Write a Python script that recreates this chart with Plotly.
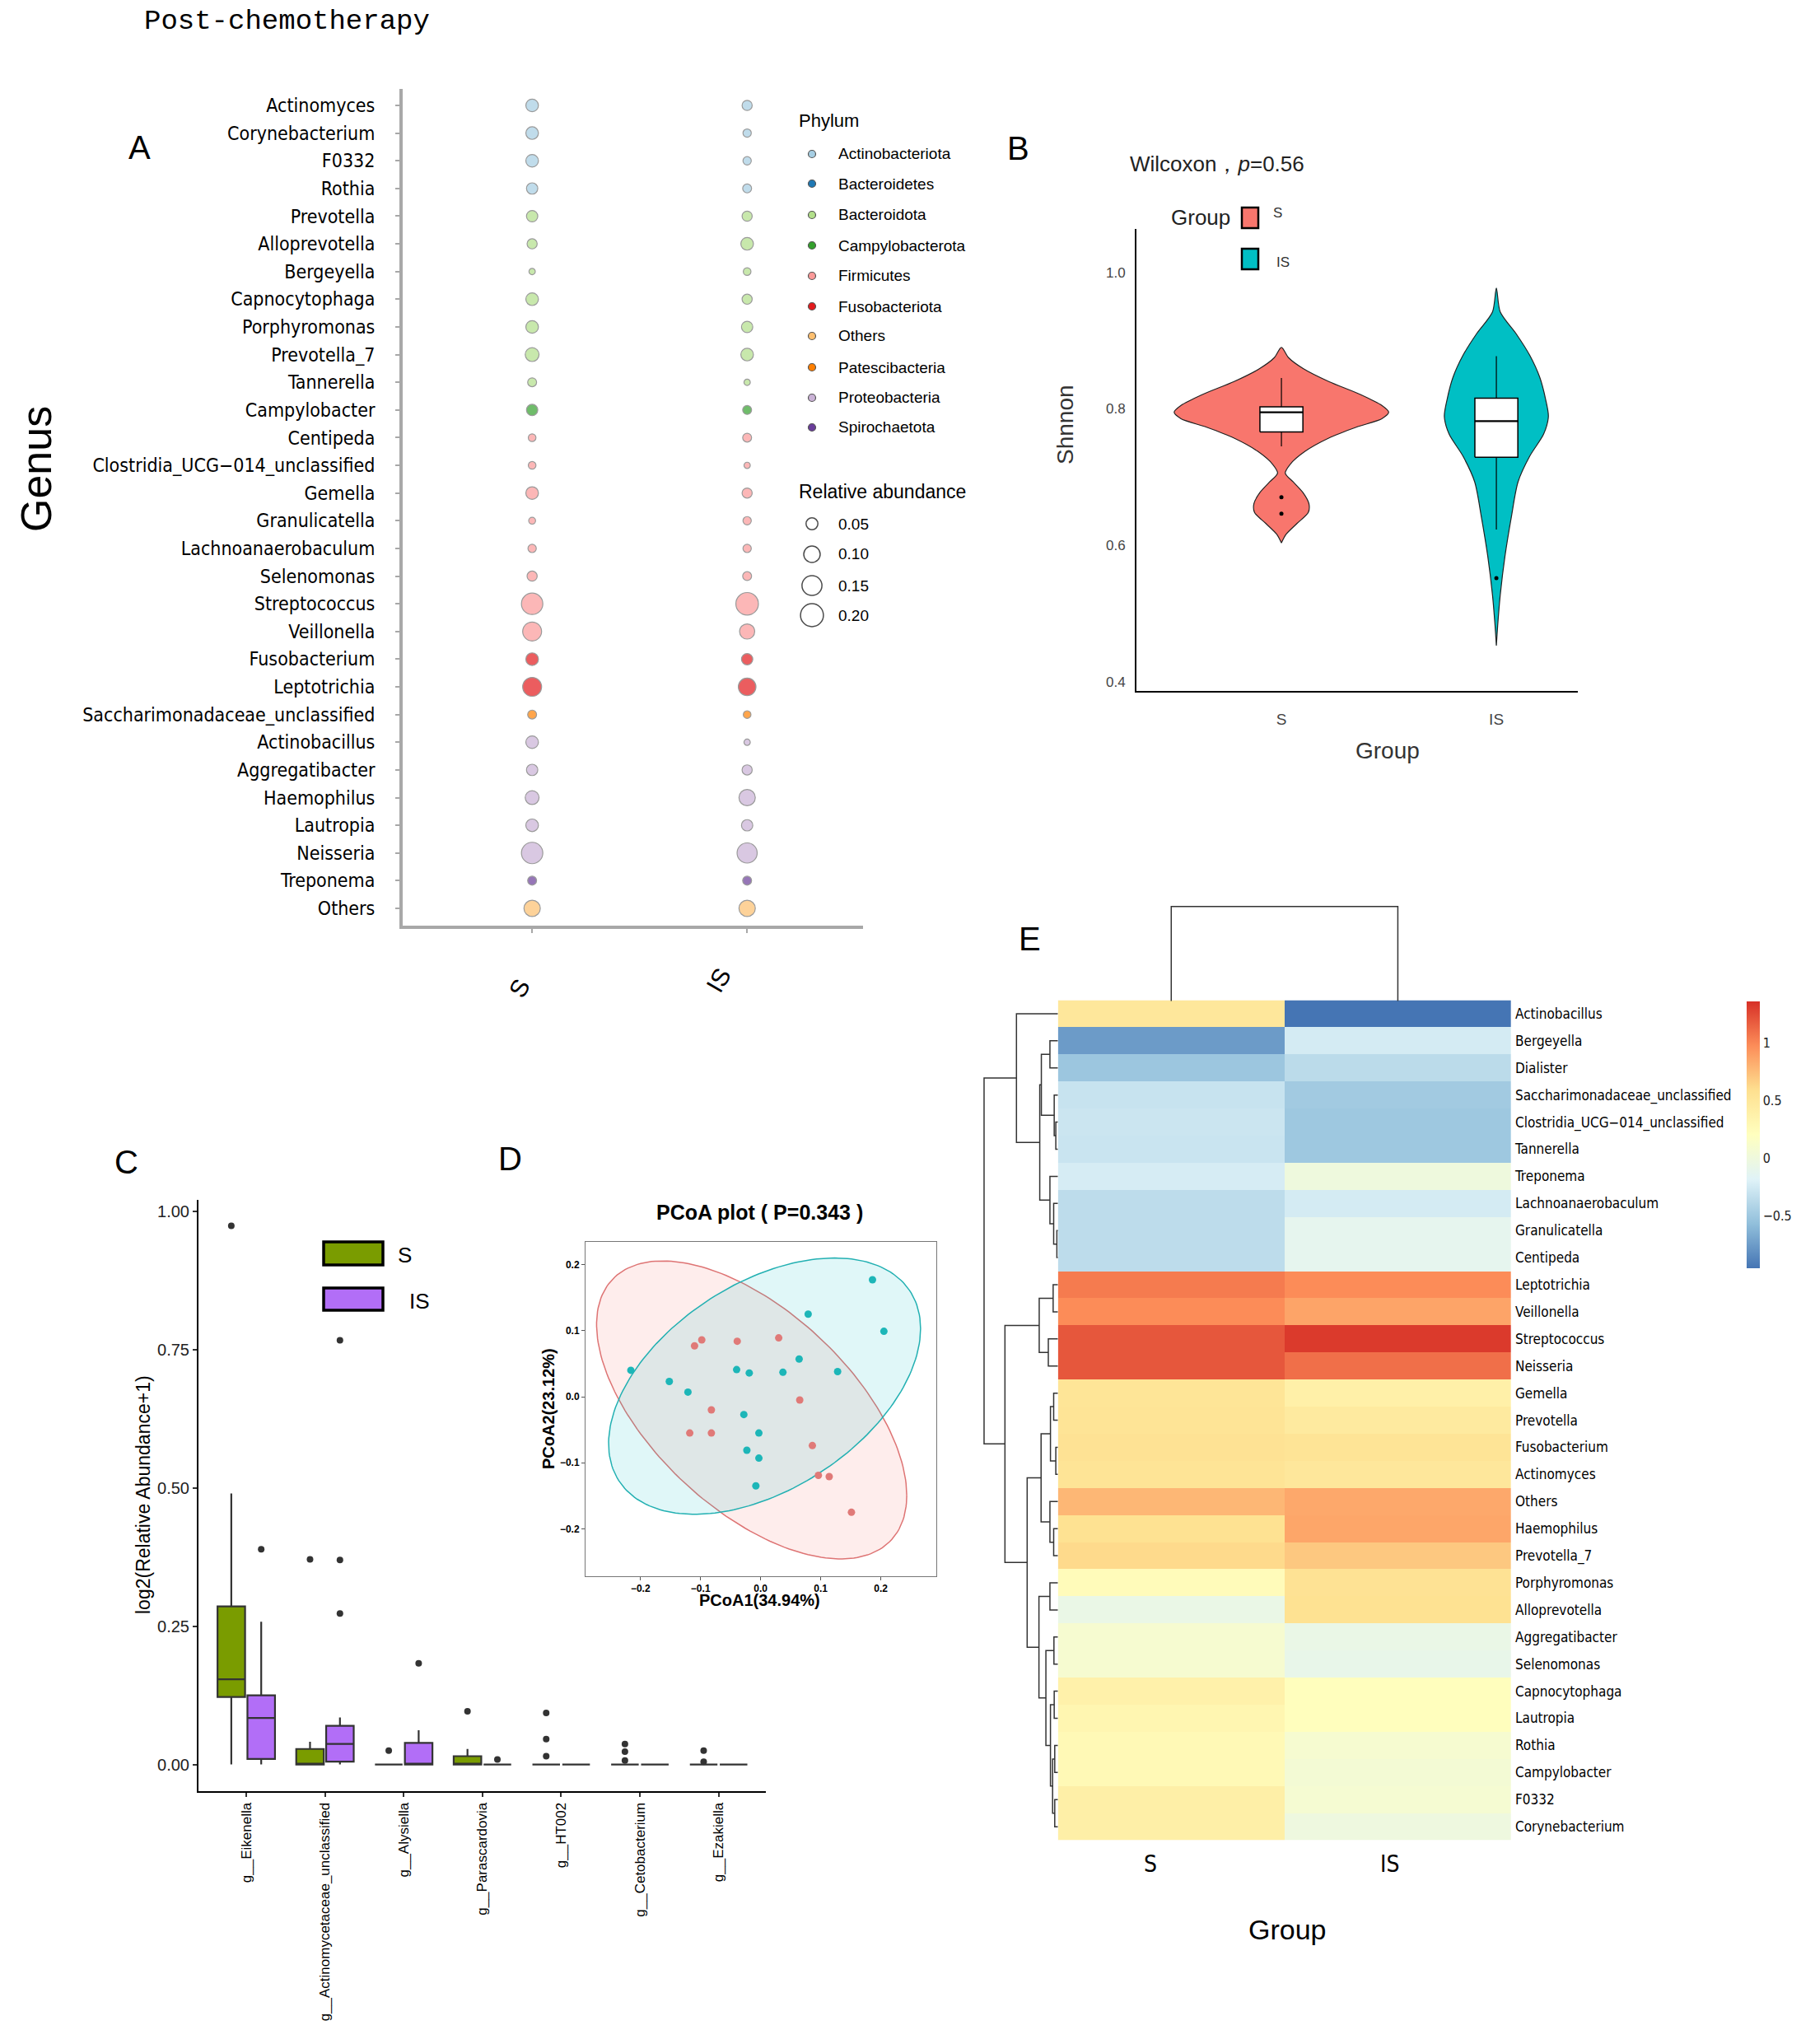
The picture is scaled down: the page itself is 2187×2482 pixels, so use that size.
import numpy as np
import plotly.graph_objects as go

W, H = 2187, 2482
OFF = 8  # the page body adds an 8px margin; compensate so positions match the reference
SANS = "Liberation Sans, Arial, Helvetica, sans-serif"
NARROW = "Liberation Sans Narrow, Arial Narrow, DejaVu Sans Condensed, sans-serif"
MONO = "Liberation Mono, DejaVu Sans Mono, monospace"

# ---------------- Panel A : bubble plot ----------------
groups = ["S", "IS"]
genus_A = ["Actinomyces", "Corynebacterium", "F0332", "Rothia", "Prevotella",
           "Alloprevotella", "Bergeyella", "Capnocytophaga", "Porphyromonas",
           "Prevotella_7", "Tannerella", "Campylobacter", "Centipeda",
           "Clostridia_UCG\u2212014_unclassified", "Gemella", "Granulicatella",
           "Lachnoanaerobaculum", "Selenomonas", "Streptococcus", "Veillonella",
           "Fusobacterium", "Leptotrichia", "Saccharimonadaceae_unclassified",
           "Actinobacillus", "Aggregatibacter", "Haemophilus", "Lautropia",
           "Neisseria", "Treponema", "Others"]
phylum_A = ["Actinobacteriota", "Actinobacteriota", "Actinobacteriota", "Actinobacteriota",
            "Bacteroidota", "Bacteroidota", "Bacteroidota", "Bacteroidota", "Bacteroidota",
            "Bacteroidota", "Bacteroidota", "Campylobacterota",
            "Firmicutes", "Firmicutes", "Firmicutes", "Firmicutes", "Firmicutes",
            "Firmicutes", "Firmicutes", "Firmicutes",
            "Fusobacteriota", "Fusobacteriota", "Patescibacteria",
            "Proteobacteria", "Proteobacteria", "Proteobacteria", "Proteobacteria",
            "Proteobacteria", "Spirochaetota", "Others"]
abund_S = [0.042, 0.042, 0.042, 0.032, 0.032, 0.024, 0.006, 0.042, 0.042, 0.053,
           0.017, 0.032, 0.011, 0.011, 0.042, 0.008, 0.014, 0.024, 0.147, 0.111,
           0.042, 0.111, 0.017, 0.042, 0.032, 0.053, 0.042, 0.147, 0.017, 0.079]
abund_IS = [0.024, 0.014, 0.014, 0.017, 0.024, 0.042, 0.011, 0.024, 0.032, 0.042,
            0.006, 0.017, 0.017, 0.006, 0.024, 0.014, 0.014, 0.017, 0.165, 0.066,
            0.032, 0.094, 0.011, 0.006, 0.024, 0.079, 0.032, 0.128, 0.017, 0.079]
phyla = ["Actinobacteriota", "Bacteroidetes", "Bacteroidota", "Campylobacterota",
         "Firmicutes", "Fusobacteriota", "Others", "Patescibacteria",
         "Proteobacteria", "Spirochaetota"]
phylum_colors = ["#a6cee3", "#1f78b4", "#b2df8a", "#33a02c", "#fb9a99",
                 "#e31a1c", "#fdbf6f", "#ff7f00", "#cab2d6", "#6a3d9a"]
size_breaks = [0.05, 0.10, 0.15, 0.20]

# ---------------- Panel B : violin (density profiles) ----------------
violin_S_y = [0.890, 0.875, 0.859, 0.840, 0.821, 0.805, 0.795, 0.7855, 0.773, 0.757,
              0.7376, 0.7184, 0.7056, 0.6928, 0.6769, 0.6608, 0.6481, 0.6321, 0.6162, 0.6034]
violin_S_w = [0.0, 0.033, 0.101, 0.220, 0.367, 0.467, 0.499, 0.467, 0.348, 0.220,
              0.110, 0.040, 0.018, 0.055, 0.101, 0.128, 0.125, 0.073, 0.022, 0.0]
violin_IS_y = [0.977, 0.942, 0.910, 0.878, 0.846, 0.814, 0.7887, 0.763, 0.731, 0.693,
               0.642, 0.584, 0.527, 0.482, 0.453]
violin_IS_w = [0.0, 0.018, 0.092, 0.156, 0.202, 0.229, 0.242, 0.220, 0.156, 0.101,
               0.070, 0.040, 0.018, 0.006, 0.0]
box_B_q1 = [0.766, 0.729]
box_B_med = [0.795, 0.782]
box_B_q3 = [0.803, 0.8155]
box_B_lo = [0.745, 0.623]
box_B_hi = [0.845, 0.877]
out_B_group = [1, 1, 2]
out_B_val = [0.6705, 0.6462, 0.552]

# ---------------- Panel C : boxplots ----------------
cat_C = ["g__Eikenella", "g__Actinomycetaceae_unclassified", "g__Alysiella",
         "g__Parascardovia", "g__HT002", "g__Cetobacterium", "g__Ezakiella"]
C_S_q1 = [0.122, 0, 0, 0, 0, 0, 0]
C_S_med = [0.154, 0, 0, 0, 0, 0, 0]
C_S_q3 = [0.286, 0.028, 0, 0.015, 0, 0, 0]
C_S_lo = [0, 0, 0, 0, 0, 0, 0]
C_S_hi = [0.49, 0.041, 0, 0.028, 0, 0, 0]
C_IS_q1 = [0.010, 0.005, 0, 0, 0, 0, 0]
C_IS_med = [0.084, 0.037, 0, 0, 0, 0, 0]
C_IS_q3 = [0.125, 0.070, 0.039, 0, 0, 0, 0]
C_IS_lo = [0, 0, 0, 0, 0, 0, 0]
C_IS_hi = [0.258, 0.085, 0.062, 0, 0, 0, 0]
C_S_out_cat = [0, 1, 2, 3, 4, 4, 4, 5, 5, 5, 6, 6]
C_S_out_val = [0.974, 0.371, 0.025, 0.096, 0.093, 0.046, 0.015, 0.037, 0.023, 0.007, 0.025, 0.005]
C_IS_out_cat = [0, 1, 1, 1, 2, 3]
C_IS_out_val = [0.389, 0.767, 0.370, 0.273, 0.183, 0.009]

# ---------------- Panel D : PCoA ----------------
pcoa_S_x = [-0.039, 0.030, -0.098, -0.110, 0.065, -0.082, -0.118, -0.082, 0.086, 0.096, 0.114, 0.151]
pcoa_S_y = [0.084, 0.089, 0.086, 0.077, -0.005, -0.020, -0.055, -0.055, -0.074, -0.119, -0.121, -0.175]
pcoa_IS_x = [0.186, 0.205, 0.079, 0.064, 0.128, 0.037, -0.019, -0.040, -0.216, -0.152,
             -0.121, -0.028, -0.003, -0.023, -0.003, -0.008]
pcoa_IS_y = [0.177, 0.099, 0.125, 0.057, 0.038, 0.037, 0.036, 0.041, 0.040, 0.023,
             0.007, -0.027, -0.055, -0.081, -0.093, -0.135]
# ellipse: centre x, centre y, half-extent x, half-extent y, correlation
ellipse_S = [-0.015, -0.020, 0.258, 0.2256, -0.574]
ellipse_IS = [0.0065, 0.016, 0.2595, 0.194, 0.449]

# ---------------- Panel E : heatmap ----------------
heat_rows = ["Actinobacillus", "Bergeyella", "Dialister", "Saccharimonadaceae_unclassified",
             "Clostridia_UCG\u2212014_unclassified", "Tannerella", "Treponema",
             "Lachnoanaerobaculum", "Granulicatella", "Centipeda", "Leptotrichia",
             "Veillonella", "Streptococcus", "Neisseria", "Gemella", "Prevotella",
             "Fusobacterium", "Actinomyces", "Others", "Haemophilus", "Prevotella_7",
             "Porphyromonas", "Alloprevotella", "Aggregatibacter", "Selenomonas",
             "Capnocytophaga", "Lautropia", "Rothia", "Campylobacter", "F0332",
             "Corynebacterium"]
heat_S = [0.50, -0.75, -0.51, -0.30, -0.28, -0.29, -0.23, -0.35, -0.35, -0.35,
          1.05, 0.98, 1.20, 1.20, 0.53, 0.54, 0.56, 0.54, 0.78, 0.57, 0.62,
          0.25, -0.06, 0.09, 0.09, 0.38, 0.32, 0.28, 0.28, 0.40, 0.40]
heat_IS = [-0.95, -0.24, -0.36, -0.48, -0.50, -0.50, 0.00, -0.24, -0.11, -0.11,
           0.98, 0.87, 1.32, 1.10, 0.39, 0.47, 0.54, 0.50, 0.85, 0.86, 0.70,
           0.56, 0.57, -0.06, -0.08, 0.22, 0.22, 0.09, 0.06, 0.08, -0.01]
heat_zmin, heat_zmax = -0.95, 1.36
rdylbu_rev = ["#4575B4", "#91BFDB", "#E0F3F8", "#FFFFBF", "#FEE090", "#FC8D59", "#D73027"]
# row dendrogram: [left, right, merge height], leaves are row indices
A2a = [[1, 2, 30], [3, [4, 5, 8], 14], 62]
A2b = [6, [7, [8, 9, 4], 16], 30]
A_cl = [0, [A2a, A2b, 68], 155]
B1 = [[10, 11, 18], [12, 13, 36], 70]
B2a = [[[14, 15, 16], [16, 17, 8], 28], [18, [19, 20, 16], 30], 63]
B2b = [[21, 22, 30], [[23, 24, 15], [[25, 26, 14], [[27, 28, 12], [29, 30, 12], 20], 28], 45], 71]
B_cl = [B1, [B2a, B2b, 115], 198]
row_tree = [A_cl, B_cl, 276]


# ---------------- helpers ----------------
def dom_x(a, b):
    return [(a - OFF) / W, (b - OFF) / W]


def dom_y(top, bottom):
    return [1 - (bottom - OFF) / H, 1 - (top - OFF) / H]


def px(x):
    return (x - OFF) / W


def py(y):
    return 1 - (y - OFF) / H


def dot_size(v):
    return 3 + 60 * np.sqrt(v)


annotations = []


def ann(text, x, y, size, family=SANS, anchor="center", angle=0, color="black", yanchor="middle"):
    annotations.append(dict(text=text, x=px(x), y=py(y), xref="paper", yref="paper",
                            xanchor=anchor, yanchor=yanchor, textangle=angle,
                            showarrow=False, font=dict(family=family, size=size, color=color)))


fig = go.Figure()
colmap = dict(zip(phyla, phylum_colors))

# ---- Panel A traces
n = len(genus_A)
ypos_A = [n - i for i in range(n)]
fig.add_trace(go.Scatter(
    x=[1] * n + [2] * n, y=ypos_A + ypos_A, mode="markers",
    marker=dict(size=[dot_size(v) for v in abund_S + abund_IS],
                color=[colmap[p] for p in phylum_A] * 2,
                line=dict(color="#707070", width=1.2)),
    xaxis="x", yaxis="y", showlegend=False, hoverinfo="skip"))

# Panel A legends (overlay axis in pixel units)
leg_y = [187, 223, 261, 298, 335, 372, 408, 446, 483, 519]
fig.add_trace(go.Scatter(x=[986] * len(phyla), y=leg_y, mode="markers",
                         marker=dict(size=9, color=phylum_colors, line=dict(color="#555", width=1.2)),
                         xaxis="x8", yaxis="y8", showlegend=False, hoverinfo="skip"))
size_y = [636, 673, 711, 747]
fig.add_trace(go.Scatter(x=[986] * 4, y=size_y, mode="markers",
                         marker=dict(size=[dot_size(v) - 2 for v in size_breaks], color="white",
                                     line=dict(color="black", width=1.5)),
                         xaxis="x8", yaxis="y8", showlegend=False, hoverinfo="skip"))
ann("Phylum", 968, 146, 22, anchor="left")
for p, yy in zip(phyla, leg_y):
    ann(p, 1016, yy, 19, anchor="left")
ann("Relative abundance", 968, 597, 23, anchor="left")
for v, yy in zip(size_breaks, size_y):
    ann(f"{v:.2f}", 1016, yy, 19, anchor="left")
ann("A", 169, 179, 40)
ann("Genus", 44, 570, 52, angle=-90)
ann("S", 631, 1200, 30, angle=-60)
ann("IS", 872, 1190, 30, angle=-60)

# ---- Panel B traces
violin_fill = ["#F8766D", "#00BFC4"]
for gi, (vy, vw) in enumerate([(violin_S_y, violin_S_w), (violin_IS_y, violin_IS_w)]):
    c = gi + 1
    xs = [c - w for w in vw] + [c + w for w in vw[::-1]]
    ys = list(vy) + list(vy[::-1])
    fig.add_trace(go.Scatter(x=xs, y=ys, mode="lines", fill="toself",
                             fillcolor=violin_fill[gi],
                             line=dict(color="#222", width=1.2, shape="spline", smoothing=0.8),
                             xaxis="x2", yaxis="y2", showlegend=False, hoverinfo="skip"))
# box + whiskers drawn on top of the violins
bw = 0.1
for gi in range(2):
    c = gi + 1
    q1, md, q3, lo, hi = box_B_q1[gi], box_B_med[gi], box_B_q3[gi], box_B_lo[gi], box_B_hi[gi]
    fig.add_trace(go.Scatter(x=[c, c, None, c, c], y=[hi, q3, None, q1, lo], mode="lines",
                             line=dict(color="black", width=1.2),
                             xaxis="x2", yaxis="y2", showlegend=False, hoverinfo="skip"))
    fig.add_trace(go.Scatter(x=[c - bw, c + bw, c + bw, c - bw, c - bw], y=[q1, q1, q3, q3, q1],
                             mode="lines", fill="toself", fillcolor="white",
                             line=dict(color="black", width=1.5),
                             xaxis="x2", yaxis="y2", showlegend=False, hoverinfo="skip"))
    fig.add_trace(go.Scatter(x=[c - bw, c + bw], y=[md, md], mode="lines",
                             line=dict(color="black", width=2.2),
                             xaxis="x2", yaxis="y2", showlegend=False, hoverinfo="skip"))
fig.add_trace(go.Scatter(x=out_B_group, y=out_B_val, mode="markers",
                         marker=dict(size=5, color="black"),
                         xaxis="x2", yaxis="y2", showlegend=False, hoverinfo="skip"))
ann("B", 1236, 180, 40)
ann("Wilcoxon\uff0c<i>p</i>=0.56", 1370, 199, 26, anchor="left", color="#222")
ann("Group", 1420, 264, 26, anchor="left", color="#222")
ann("S", 1551, 259, 17, color="#333")
ann("IS", 1558, 318, 17, color="#333")
ann("Group", 1685, 911, 28, color="#333")
ann("Shnnon", 1293, 516, 28, angle=-90, color="#333")

# ---- Panel C traces
off = 0.19
box_colors = ["#7a9c00", "#b26ef7"]
for gi, (q1, md, q3, lo, hi) in enumerate([(C_S_q1, C_S_med, C_S_q3, C_S_lo, C_S_hi),
                                           (C_IS_q1, C_IS_med, C_IS_q3, C_IS_lo, C_IS_hi)]):
    sgn = -1 if gi == 0 else 1
    xs = [i + sgn * off for i in range(len(cat_C))]
    fig.add_trace(go.Box(x=xs, q1=q1, median=md, q3=q3, lowerfence=lo, upperfence=hi,
                         width=0.35, fillcolor=box_colors[gi],
                         line=dict(color="#333333", width=2.2), whiskerwidth=0,
                         boxpoints=False, orientation="v",
                         xaxis="x3", yaxis="y3", showlegend=False, hoverinfo="skip"))
fig.add_trace(go.Scatter(x=[c - off for c in C_S_out_cat] + [c + off for c in C_IS_out_cat],
                         y=C_S_out_val + C_IS_out_val, mode="markers",
                         marker=dict(size=8, color="#333333"),
                         xaxis="x3", yaxis="y3", showlegend=False, hoverinfo="skip"))
ann("C", 153, 1411, 40)
ann("log2(Relative Abundance+1)", 174, 1815, 23, angle=-90)
ann("S", 491, 1524, 26)
ann("IS", 509, 1580, 26)

# ---- Panel D traces
t = np.linspace(0, 2 * np.pi, 200)
ell_style = [("rgba(248,118,109,0.13)", "#de7474"), ("rgba(0,191,196,0.12)", "#22b0b2")]
for (cx, cy, sx, sy, r), (fc, lc) in zip([ellipse_S, ellipse_IS], ell_style):
    ex = cx + sx * np.cos(t)
    ey = cy + r * sy * np.cos(t) + sy * np.sqrt(1 - r * r) * np.sin(t)
    fig.add_trace(go.Scatter(x=ex, y=ey, mode="lines", fill="toself", fillcolor=fc,
                             line=dict(color=lc, width=1.5),
                             xaxis="x4", yaxis="y4", showlegend=False, hoverinfo="skip"))
fig.add_trace(go.Scatter(x=pcoa_S_x, y=pcoa_S_y, mode="markers",
                         marker=dict(size=9, color="#e07a78"),
                         xaxis="x4", yaxis="y4", showlegend=False, hoverinfo="skip"))
fig.add_trace(go.Scatter(x=pcoa_IS_x, y=pcoa_IS_y, mode="markers",
                         marker=dict(size=9, color="#1db6b8"),
                         xaxis="x4", yaxis="y4", showlegend=False, hoverinfo="skip"))
ann("D", 619, 1407, 40)
ann("<b>PCoA plot ( P=0.343 )</b>", 922, 1472, 25)
ann("<b>PCoA1(34.94%)</b>", 922, 1943, 20)
ann("<b>PCoA2(23.12%)</b>", 666, 1711, 20, angle=-90)

# ---- Panel E traces
nr = len(heat_rows)
cs = [[i / (len(rdylbu_rev) - 1), c] for i, c in enumerate(rdylbu_rev)]
fig.add_trace(go.Heatmap(
    z=[[a, b] for a, b in zip(heat_S, heat_IS)], x=[0, 1], y=list(range(nr)),
    colorscale=cs, zmin=heat_zmin, zmax=heat_zmax, xgap=0, ygap=0,
    xaxis="x5", yaxis="y5", hoverinfo="skip",
    colorbar=dict(x=px(2121), xanchor="left", y=py(1215.5), yanchor="top",
                  len=323.5 / H, lenmode="fraction", thickness=16, thicknessmode="pixels",
                  outlinewidth=0, xpad=0, ypad=0, ticks="",
                  tickvals=[-0.5, 0, 0.5, 1], ticktext=["\u22120.5", "0", "0.5", "1"],
                  tickfont=dict(family=NARROW, size=16, color="#222"))))

segs_x, segs_y = [], []


def walk(node):
    if isinstance(node, int):
        return float(node), 0.0
    l, r, h = node
    yl, hl = walk(l)
    yr, hr = walk(r)
    segs_x.extend([hl, h, h, hr, None])
    segs_y.extend([yl, yl, yr, yr, None])
    return (yl + yr) / 2, h


walk(row_tree)
fig.add_trace(go.Scatter(x=segs_x, y=segs_y, mode="lines", line=dict(color="#333", width=1.5),
                         xaxis="x6", yaxis="y6", showlegend=False, hoverinfo="skip"))
col_leaves = [0, 1]
fig.add_trace(go.Scatter(x=[col_leaves[0], col_leaves[0], col_leaves[1], col_leaves[1]],
                         y=[0, 1, 1, 0], mode="lines", line=dict(color="#333", width=1.5),
                         xaxis="x7", yaxis="y7", showlegend=False, hoverinfo="skip"))
ann("E", 1250, 1140, 40)
ann("S", 1397, 2263, 28, family=NARROW)
ann("IS", 1687, 2263, 28, family=NARROW)
ann("Group", 1563, 2343, 34)

# ---- title
ann("Post-chemotherapy", 348, 26, 34, family=MONO)

# ---------------- shapes (legend keys) ----------------
shapes = []


def rect(x0, y0, x1, y1, fill, lw):
    shapes.append(dict(type="rect", xref="paper", yref="paper", x0=px(x0), x1=px(x1),
                       y0=py(y1), y1=py(y0), fillcolor=fill, line=dict(color="black", width=lw)))


rect(1508, 252, 1528, 277, violin_fill[0], 2.5)
rect(1508, 302, 1528, 327, violin_fill[1], 2.5)
rect(393, 1508, 465, 1536, box_colors[0], 3.5)
rect(393, 1564, 465, 1591, box_colors[1], 3.5)

# ---------------- layout ----------------
noaxis = dict(visible=False, showgrid=False, zeroline=False, fixedrange=True)
A_line = "#a8a8a8"
fig.update_layout(
    width=W, height=H, margin=dict(l=0, r=0, t=0, b=0),
    paper_bgcolor="white", plot_bgcolor="rgba(0,0,0,0)",
    font=dict(family=SANS, color="black"), showlegend=False,
    annotations=annotations, shapes=shapes,
    xaxis=dict(domain=dom_x(489, 1048), range=[0.398, 2.539], anchor="y",
               showline=True, linecolor=A_line, linewidth=4, ticks="outside",
               tickvals=[1, 2], ticklen=5, tickwidth=2, tickcolor=A_line,
               showticklabels=False, showgrid=False, zeroline=False),
    yaxis=dict(domain=dom_y(108, 1124), range=[0.375, 30.595], anchor="x",
               showline=True, linecolor=A_line, linewidth=4, ticks="outside",
               ticklen=5, tickwidth=2, tickcolor=A_line,
               tickvals=ypos_A, ticktext=genus_A, ticklabelstandoff=20,
               tickfont=dict(family=NARROW, size=23, color="black"),
               showgrid=False, zeroline=False),
    xaxis2=dict(domain=dom_x(1380, 1916), range=[0.3255, 2.379], anchor="y2",
                showline=True, linecolor="black", linewidth=2, ticks="",
                tickvals=[1, 2], ticktext=groups, ticklabelstandoff=16,
                tickfont=dict(size=19, color="#444"), showgrid=False, zeroline=False),
    yaxis2=dict(domain=dom_y(278, 839), range=[0.3865, 1.0636], anchor="x2",
                showline=True, linecolor="black", linewidth=2, ticks="",
                tickvals=[0.4, 0.6, 0.8, 1.0], ticktext=["0.4", "0.6", "0.8", "1.0"],
                ticklabelstandoff=8, tickfont=dict(size=17, color="#444"),
                showgrid=False, zeroline=False),
    xaxis3=dict(domain=dom_x(241, 930), range=[-0.607, 6.6], anchor="y3",
                showline=True, linecolor="black", linewidth=2, ticks="outside",
                ticklen=5, tickwidth=1.5, tickcolor="#333",
                tickvals=list(range(len(cat_C))), ticktext=cat_C, tickangle=-90,
                tickfont=dict(size=17, color="black"), showgrid=False, zeroline=False),
    yaxis3=dict(domain=dom_y(1457, 2175), range=[-0.0483, 1.021], anchor="x3",
                showline=True, linecolor="black", linewidth=2, ticks="outside",
                ticklen=5, tickwidth=1.5, tickcolor="#333",
                tickvals=[0, 0.25, 0.5, 0.75, 1.0], ticktext=["0.00", "0.25", "0.50", "0.75", "1.00"],
                tickfont=dict(size=20, color="#222"), showgrid=False, zeroline=False),
    xaxis4=dict(domain=dom_x(711, 1137), range=[-0.2914, 0.2922], anchor="y4",
                showline=True, mirror=True, linecolor="#777", linewidth=1, ticks="outside",
                ticklen=4, tickcolor="#555",
                tickvals=[-0.2, -0.1, 0, 0.1, 0.2], ticktext=["\u22120.2", "\u22120.1", "0.0", "0.1", "0.2"],
                tickfont=dict(size=12, color="black", weight="bold"), showgrid=False, zeroline=False),
    yaxis4=dict(domain=dom_y(1508, 1913.6), range=[-0.2713, 0.2344], anchor="x4",
                showline=True, mirror=True, linecolor="#777", linewidth=1, ticks="outside",
                ticklen=4, tickcolor="#555",
                tickvals=[-0.2, -0.1, 0, 0.1, 0.2], ticktext=["\u22120.2", "\u22120.1", "0.0", "0.1", "0.2"],
                tickfont=dict(size=12, color="black", weight="bold"), showgrid=False, zeroline=False),
    xaxis5=dict(domain=dom_x(1284.7, 1835), range=[-0.5, 1.5], anchor="y5",
                tickvals=[0, 1], showticklabels=False, ticks="",
                showline=False, showgrid=False, zeroline=False),
    yaxis5=dict(domain=dom_y(1214.5, 2234.6), range=[nr - 0.5, -0.5], anchor="x5", side="right",
                tickvals=list(range(nr)), ticktext=heat_rows, ticks="", ticklabelstandoff=4,
                tickfont=dict(family=NARROW, size=17, color="black"),
                showline=False, showgrid=False, zeroline=False),
    xaxis6=dict(domain=dom_x(1194, 1284.7), range=[279, 0], anchor="y6", **noaxis),
    yaxis6=dict(domain=dom_y(1214.5, 2234.6), range=[nr - 0.5, -0.5], anchor="x6", **noaxis),
    xaxis7=dict(domain=dom_x(1284.7, 1835), range=[-0.5, 1.5], anchor="y7", **noaxis),
    yaxis7=dict(domain=dom_y(1098, 1216), range=[-0.004, 1.0235], anchor="x7", **noaxis),
    xaxis8=dict(domain=[0, 1], range=[OFF, W + OFF], anchor="y8", **noaxis),
    yaxis8=dict(domain=[0, 1], range=[H + OFF, OFF], anchor="x8", **noaxis),
)

fig.write_html("out.html")
